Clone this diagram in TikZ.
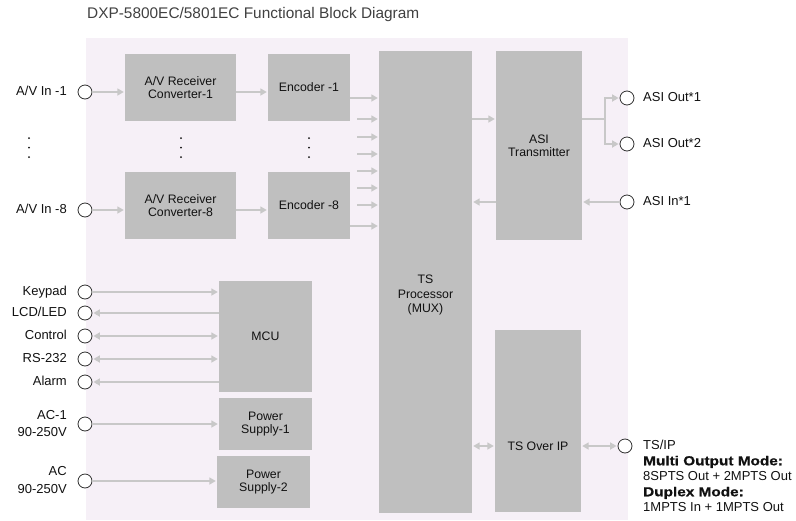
\documentclass[tikz,border=0pt]{standalone}
\usepackage{fontspec}
\setmainfont{Liberation Sans}
\newfontfamily\heavyfont[FakeStretch=1.18,FakeBold=0.8]{Liberation Sans}
\usetikzlibrary{arrows.meta}
\definecolor{bgpink}{HTML}{F6F0F7}
\definecolor{boxgray}{HTML}{BFBFBF}
\definecolor{arrgray}{HTML}{C8C8C8}
\definecolor{ringc}{HTML}{303030}
\definecolor{txtc}{HTML}{111111}
\definecolor{titlec}{HTML}{404040}
\tikzset{
  blk/.style={fill=boxgray, draw=none, inner sep=0pt, align=center, text=txtc,
    font=\fontsize{12.3}{13}\selectfont},
  port/.style={circle, draw=ringc, line width=0.8pt, fill=white, minimum size=14pt, inner sep=0pt},
  lbl/.style={text=txtc, font=\fontsize{13}{15}\selectfont, inner sep=0pt, text height=9pt, text depth=2.5pt},
  lblr/.style={lbl, anchor=east},
  lbll/.style={lbl, anchor=west},
  conn/.style={draw=arrgray, line width=2pt},
  arr/.style={conn, -{Triangle[length=6.5pt,width=7pt]}, shorten >=1pt},
  rarr/.style={conn, {Triangle[length=6.5pt,width=7pt]}-, shorten <=1pt},
  barr/.style={conn, {Triangle[length=6.5pt,width=7pt]}-{Triangle[length=6.5pt,width=7pt]}, shorten >=1pt, shorten <=1pt},
}
\begin{document}
\begin{tikzpicture}[x=1pt,y=-1pt]
\useasboundingbox (0,0) rectangle (796,520);
% background
\fill[bgpink] (86,38) rectangle (628,520);
% title
\node[anchor=west, inner sep=0pt, text=titlec, font=\fontsize{15.4}{18}\selectfont] (title) at (87,15) {DXP-5800EC/5801EC Functional Block Diagram};
% blocks
\node[blk, minimum width=111pt, minimum height=67pt] (conv1) at (180.5,87.5) {A/V Receiver\\Converter-1};
\node[blk, minimum width=82pt, minimum height=67pt] (enc1) at (309,87.5) {Encoder -1};
\node[blk, minimum width=111pt, minimum height=67pt] (conv8) at (180.5,205.5) {A/V Receiver\\Converter-8};
\node[blk, minimum width=82pt, minimum height=67pt] (enc8) at (309,205.5) {Encoder -8};
\node[blk, minimum width=93pt, minimum height=462pt] (tsp) at (425.5,282) {};
\node[blk, fill=none, font=\fontsize{12.3}{14.5}\selectfont] (tsptxt) at (425.5,295) {TS\\Processor\\(MUX)};
\node[blk, minimum width=86pt, minimum height=189pt] (asitx) at (539,145.5) {ASI\\Transmitter};
\node[blk, minimum width=93pt, minimum height=111pt] (mcu) at (265.5,336.5) {MCU};
\node[blk, minimum width=93pt, minimum height=52pt] (ps1) at (265.5,424) {Power\\Supply-1};
\node[blk, minimum width=93pt, minimum height=52pt] (ps2) at (263.5,482) {Power\\Supply-2};
\node[blk, minimum width=86pt, minimum height=182pt] (tsoip) at (538,421) {};
\node[blk, fill=none] (tsoiptxt) at (538,446) {TS Over IP};
% ports
\node[port] (in1) at (85,92) {};
\node[port] (in8) at (85,210) {};
\node[port] (ckey) at (85,292) {};
\node[port] (clcd) at (85,313) {};
\node[port] (cctl) at (85,336) {};
\node[port] (crs) at (85,359) {};
\node[port] (calm) at (85,382) {};
\node[port] (cac1) at (85,424) {};
\node[port] (cac2) at (85,481) {};
\node[port] (ao1) at (627,98) {};
\node[port] (ao2) at (627,144) {};
\node[port] (ain) at (627,202) {};
\node[port] (cip) at (625,446) {};
% left labels
\node[lblr] (lin1) at (67,92) {A/V In -1};
\node[lblr] (lin8) at (67,210) {A/V In -8};
\node[lblr] (lkey) at (67,292) {Keypad};
\node[lblr] (llcd) at (67,313) {LCD/LED};
\node[lblr] (lctl) at (67,336) {Control};
\node[lblr] (lrs) at (67,359) {RS-232};
\node[lblr] (lalm) at (67,382) {Alarm};
\node[lblr] (lac1a) at (67,416) {AC-1};
\node[lblr] (lac1b) at (67,433) {90-250V};
\node[lblr] (lac2a) at (67,472) {AC};
\node[lblr] (lac2b) at (67,490) {90-250V};
% right labels
\node[lbll] (lao1) at (643,98) {ASI Out*1};
\node[lbll] (lao2) at (643,144) {ASI Out*2};
\node[lbll] (lain) at (643,202) {ASI In*1};
\node[lbll] (lip1) at (643,446) {TS/IP};
\node[lbll] (lip2) at (643,462) {\heavyfont\bfseries Multi Output Mode:};
\node[lbll] (lip3) at (643,477.5) {8SPTS Out + 2MPTS Out};
\node[lbll] (lip4) at (643,493) {\heavyfont\bfseries Duplex Mode:};
\node[lbll] (lip5) at (643,508.5) {1MPTS In + 1MPTS Out};
% vertical dots
\foreach \xx in {29,181,309}
  \foreach \yy in {138,147.5,157}
    \fill[txtc] (\xx,\yy) circle (1pt);
% input chain
\draw[arr] (in1) -- (in1 -| conv1.west);
\draw[arr] (in8) -- (in8 -| conv8.west);
\draw[arr] (in1 -| conv1.east) -- (in1 -| enc1.west);
\draw[arr] (in8 -| conv8.east) -- (in8 -| enc8.west);
% encoder outputs to TS processor
\coordinate (e1o) at ([yshift=-10.5pt]enc1.east);
\coordinate (e8o) at ([yshift=-20.5pt]enc8.east);
\draw[arr] (e1o) -- (e1o -| tsp.west);
\draw[arr] (e8o) -- (e8o -| tsp.west);
\foreach \yy [count=\i] in {119,137,154,171,188,205} {
  \coordinate (m\i) at (357,\yy);
  \draw[arr] (m\i) -- (m\i -| tsp.west);
}
% TS processor to ASI transmitter
\draw[arr] (m1 -| tsp.east) -- (m1 -| asitx.west);
\coordinate (br) at (605,119);
\draw[conn] (m1 -| asitx.east) -- (br);
\draw[arr] (br) |- (ao1);
\draw[arr] (br) |- (ao2);
\draw[arr] (ain) -- (ain -| asitx.east);
\draw[arr] (ain -| asitx.west) -- (ain -| tsp.east);
% MCU
\draw[arr] (ckey) -- (ckey -| mcu.west);
\draw[rarr] (clcd) -- (clcd -| mcu.west);
\draw[barr] (cctl) -- (cctl -| mcu.west);
\draw[barr] (crs) -- (crs -| mcu.west);
\draw[rarr] (calm) -- (calm -| mcu.west);
% power
\draw[arr] (cac1) -- (cac1 -| ps1.west);
\draw[arr] (cac2) -- (cac2 -| ps2.west);
% TS over IP
\draw[barr] (tsoiptxt -| tsp.east) -- (tsoiptxt -| tsoip.west);
\draw[barr] (tsoiptxt -| tsoip.east) -- (cip);
\end{tikzpicture}
\end{document}
